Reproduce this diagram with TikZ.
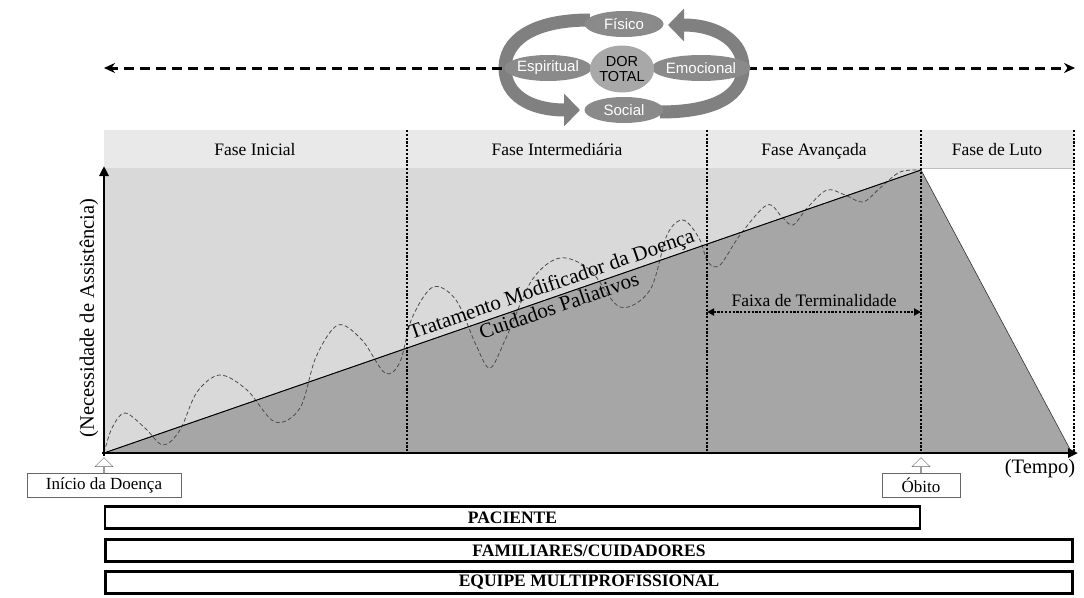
\documentclass[tikz,border=0pt]{standalone}
\usepackage{fontspec}
\setmainfont{Liberation Serif}
\setsansfont{Liberation Sans}
\usetikzlibrary{positioning,arrows.meta,shapes.geometric,shapes.arrows}
\definecolor{cinzaclaro}{RGB}{217,217,217}
\definecolor{cinzafaixa}{RGB}{233,233,233}
\definecolor{cinzaescuro}{RGB}{166,166,166}
\definecolor{cinzaelipse}{RGB}{138,138,138}
\definecolor{cinzador}{RGB}{168,168,168}

\begin{document}
\begin{tikzpicture}[x=1pt,y=-1pt,
  fase/.style={font=\fontsize{17.5}{19}\selectfont,anchor=base},
  div/.style={line width=2.2pt,dash pattern=on 2.2pt off 1.6pt},
  eixo/.style={line width=2.8pt,-{Triangle[length=10pt,width=9pt]}},
  barra/.style={draw,line width=2.6pt,minimum height=22pt,inner sep=0pt,font=\fontsize{17.5}{19}\selectfont\bfseries},
  marco/.style={draw=black!60,fill=white,minimum height=24pt,inner sep=0pt,font=\fontsize{17}{19}\selectfont},
  seta/.style={single arrow,draw=black!60,fill=white,rotate=90,minimum height=15pt,minimum width=18pt,single arrow head extend=5pt,inner sep=0pt,anchor=tail},
  dim/.style={ellipse,fill=cinzaelipse,text=white,minimum width=79pt,minimum height=26pt,inner sep=0pt,font=\sffamily\fontsize{15}{16}\selectfont},
  giro/.style={line width=13pt,draw=black!50,-{Triangle[length=16pt,width=32pt]}},
  topo/.style={line width=3pt,dash pattern=on 10pt off 6pt,-{Stealth[length=11pt,width=10pt]}},
  onda/.style={black!70,line width=0.8pt,dash pattern=on 4pt off 2.5pt}]
  \useasboundingbox (0,0) rectangle (1084,597);
  \coordinate (o) at (104,453);
  \coordinate (pico) at (921,170);
  \coordinate (fim) at (1072,453);
  \fill[cinzafaixa] (104,130) rectangle (1074,168);
  \draw[black!25] (104,168) -- (1074,168);
  \fill[cinzaclaro] (104,168) rectangle (921,453);
  \fill[cinzaescuro,draw=black!80,line width=0.6pt] (o) -- (pico) -- (fim) -- cycle;
  \draw[onda] plot[smooth,tension=0.55] coordinates {(104,453) (112,428) (125,413) (145,428) (163,445)
    (180,430) (197,392) (220,375) (247,390) (275,422) (300,408) (316,357) (338,325) (362,340)
    (385,373) (400,362) (412,318) (433,287) (456,300) (476,345) (490,368) (506,338) (532,280)
    (560,258) (590,270) (620,307) (650,290) (667,235) (683,220) (699,238) (708,262) (720,265)
    (740,235) (767,205) (782,217) (793,225) (808,207) (827,190) (845,195) (863,202) (880,188)
    (900,172) (921,170)};
  \draw[line width=0.9pt] (o) -- node[sloped,above,pos=.553,inner sep=1.5pt,font=\fontsize{21}{23}\selectfont] (tmd) {Tratamento Modificador da Doença}
    node[sloped,below,pos=.553,inner sep=1.5pt,font=\fontsize{21}{23}\selectfont] (cp) {Cuidados Paliativos} (pico);
  \foreach \x/\n in {407/a,707/b,921/c,1074/d}{
    \coordinate (t\n) at (\x,130);
    \coordinate (b\n) at (\x,453);
    \draw[div] (t\n) -- (b\n);
  }
  \node[fase] (f1) at (255,155) {Fase Inicial};
  \node[fase] (f2) at (557,155) {Fase Intermediária};
  \node[fase] (f3) at (814,155) {Fase Avançada};
  \node[fase] (f4) at (997,155) {Fase de Luto};
  \coordinate (fx1) at (707,312);
  \coordinate (fx2) at (921,312);
  \draw[div,{Triangle[length=7pt,width=7pt]}-{Triangle[length=7pt,width=7pt]}] (fx1) -- (fx2);
  \node[fase] (faixa) at (814,306) {Faixa de Terminalidade};
  \draw[eixo] (104,456) -- (104,166);
  \draw[eixo] (102,453) -- (1078,453);
  \node[rotate=90,font=\fontsize{20.5}{22}\selectfont] (ylab) at (89,318) {(Necessidade de Assistência)};
  \node[font=\fontsize{20.5}{22}\selectfont] (tempo) at (1040,469) {(Tempo)};
  \node[marco,minimum width=154pt] (ini) at (104,485) {Início da Doença};
  \node[marco,minimum width=78pt] (obito) at (921,485) {Óbito};
  \node[seta] at (ini.north) {};
  \node[seta] at (obito.north) {};
  \node[barra,minimum width=815pt] (pac) at (512.5,517.5) {PACIENTE};
  \node[barra,minimum width=967pt] (fam) at (589,550.5) {FAMILIARES/CUIDADORES};
  \node[barra,minimum width=967pt,below=7.5pt of fam] (eq) {EQUIPE MULTIPROFISSIONAL};
  \draw[giro] (590,20) .. controls (530,20) and (505,42) .. (505,68) .. controls (505,95) and (530,110) .. (580,110);
  \draw[giro] (660,112) .. controls (718,112) and (743,94) .. (743,68) .. controls (743,42) and (718,25) .. (668,25);
  \coordinate (esq) at (502,68);
  \coordinate (dir) at (747,68);
  \draw[topo] (esq) -- (104,68);
  \draw[topo] (dir) -- (1075,68);
  \node[dim] (fis) at (624,24) {Físico};
  \node[dim] (esp) at (548,68) {Espiritual};
  \node[dim] (emo) at (701,68) {Emocional};
  \node[dim] (soc) at (624,110) {Social};
  \node[ellipse,fill=cinzador,minimum width=58pt,minimum height=47pt,inner sep=0pt,align=center,
    font=\sffamily\fontsize{14.5}{15}\selectfont] (dor) at (622,69) {DOR\\TOTAL};
\end{tikzpicture}
\end{document}
